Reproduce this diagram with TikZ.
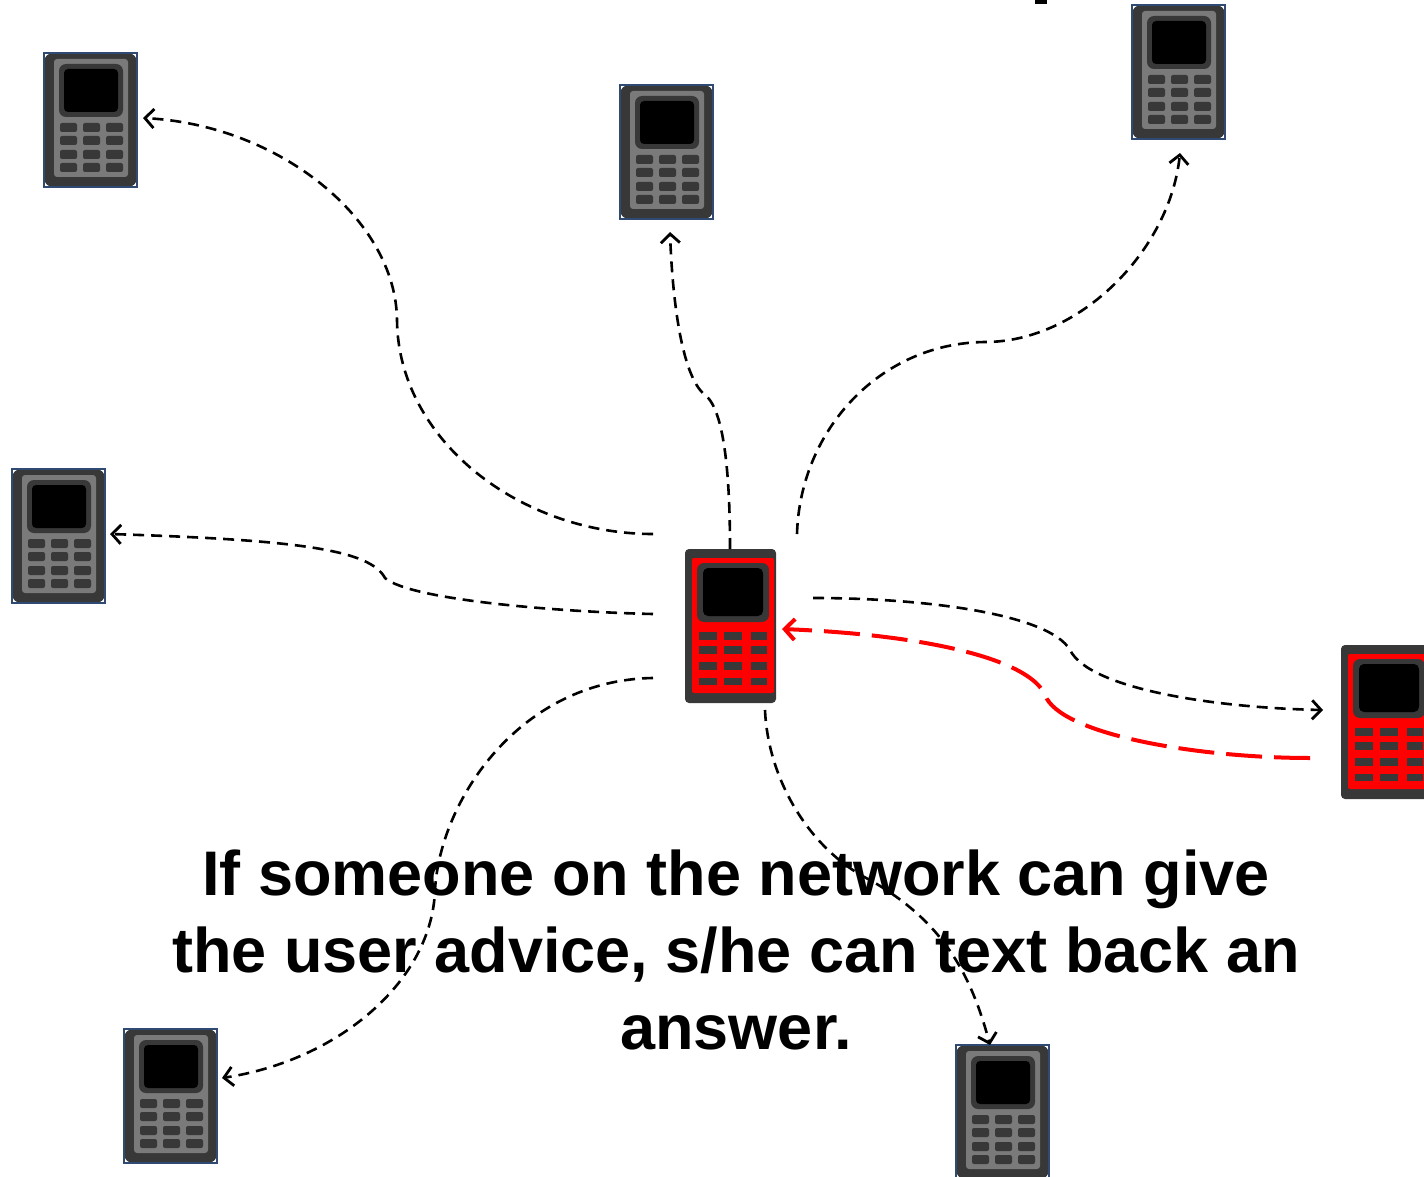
\documentclass[tikz,border=0pt]{standalone}
\usepackage{fontspec}
\setmainfont{Liberation Sans}
\usetikzlibrary{arrows.meta}
\definecolor{phdark}{HTML}{383838}
\definecolor{phgray}{HTML}{7A7A7A}
\definecolor{phframe}{HTML}{2F4B73}
\tikzset{
  blackdash/.style={draw=black,line width=2.6pt,dash pattern=on 11pt off 7pt,-{Straight Barb[length=9pt,width=19pt,line width=2.8pt]}},
  reddash/.style={draw=red,line width=4pt,dash pattern=on 36pt off 12pt,-{Straight Barb[length=10pt,width=21pt,line width=4pt]}},
  caption/.style={font=\bfseries\fontsize{63}{77}\selectfont,align=center,text=black,inner sep=0pt},
  keydark/.style={fill=phdark,rounded corners=2pt,draw=none},
  phonespot/.style={inner sep=0pt,minimum size=0pt}
}
% gray phone: top-left corner at #1,#2
\newcommand{\grayphone}[3]{%
  \begin{scope}[shift={(#2,#3)}]
    \node[phonespot] (#1) at (46.5,67) {};
    \fill[phdark,rounded corners=9pt] (0,0) rectangle (93,134);
    \fill[phgray,rounded corners=3pt] (10,6) rectangle (84,124);
    \fill[phdark,rounded corners=7pt] (15,11) rectangle (79,64);
    \fill[black,rounded corners=4pt] (20,16) rectangle (74,59);
    \foreach \kx in {16,39,62}
      \foreach \ky in {70,83,97,110}
        \path[keydark] (\kx,\ky) rectangle ++(17,9);
    \draw[phframe,line width=1.1pt] (0,0) rectangle (93,134);
  \end{scope}}
% red phone: top-left corner at #1,#2
\newcommand{\redphone}[3]{%
  \begin{scope}[shift={(#2,#3)}]
    \node[phonespot] (#1) at (45.5,77) {};
    \fill[phdark,rounded corners=4pt] (0,0) rectangle (91,154);
    \fill[red,rounded corners=2pt] (7,9) rectangle (89,144);
    \fill[phdark,rounded corners=7pt] (12,14) rectangle (84,73);
    \fill[black,rounded corners=5pt] (18,19) rectangle (78,67);
    \foreach \kx/\kw in {14/18,39/18,66/16}
      \foreach \ky/\kh in {83/8,97/8,113/8,129/6.5}
        \fill[phdark] (\kx,\ky) rectangle ++(\kw,\kh);
  \end{scope}}
\begin{document}
\begin{tikzpicture}[x=1pt,y=-1pt]
\useasboundingbox (0,0) rectangle (1424,1177);
\begin{scope}
\clip (0,0) rectangle (1424,1177);
\fill[black] (1035,0) rectangle (1047,4);
\grayphone{pa}{44}{53}
\grayphone{pb}{620}{85}
\grayphone{pc}{1132}{5}
\grayphone{pd}{12}{469}
\grayphone{pe}{124}{1029}
\grayphone{pf}{956}{1045}
\redphone{hub}{685}{549}
\redphone{pg}{1341}{645}
\end{scope}
% free ends of the connectors
\coordinate (sa) at (653,534);  \coordinate (ea) at (143,118);
\coordinate (sb) at (730,549);  \coordinate (eb) at (670,232);
\coordinate (sc) at (797,534);  \coordinate (ec) at (1180,153);
\coordinate (sd) at (653,614);  \coordinate (ed) at (110,534);
\coordinate (se) at (653,678);  \coordinate (ee) at (222,1078);
\coordinate (sf) at (765,710);  \coordinate (ef) at (990,1045);
\coordinate (sg) at (813,598);  \coordinate (eg) at (1323,710);
\coordinate (sr) at (1310,758); \coordinate (er) at (782,629);
\draw[blackdash] (sa) .. controls (520,534) and (398,440) .. (397,320) .. controls (396,220) and (280,125) .. (ea);
\draw[blackdash] (sb) .. controls (730,480) and (725,410) .. (705,395) .. controls (680,375) and (672,290) .. (eb);
\draw[blackdash] (sc) .. controls (800,430) and (880,343) .. (985,342) .. controls (1080,342) and (1170,250) .. (ec);
\draw[blackdash] (sd) .. controls (560,612) and (410,600) .. (385,578) .. controls (370,550) and (300,540) .. (ed);
\draw[blackdash] (se) .. controls (520,680) and (440,800) .. (435,890) .. controls (432,980) and (340,1060) .. (ee);
\draw[blackdash] (sf) .. controls (768,780) and (810,850) .. (870,880) .. controls (940,920) and (970,970) .. (ef);
\draw[blackdash] (sg) .. controls (930,598) and (1050,615) .. (1070,650) .. controls (1090,690) and (1220,708) .. (eg);
\draw[reddash] (sr) .. controls (1200,758) and (1060,735) .. (1045,695) .. controls (1030,660) and (930,635) .. (er);
\node[caption] (cap) at (736,950) {If someone on the network can give\\the user advice, s/he can text back an\\answer.};
\end{tikzpicture}
\end{document}
